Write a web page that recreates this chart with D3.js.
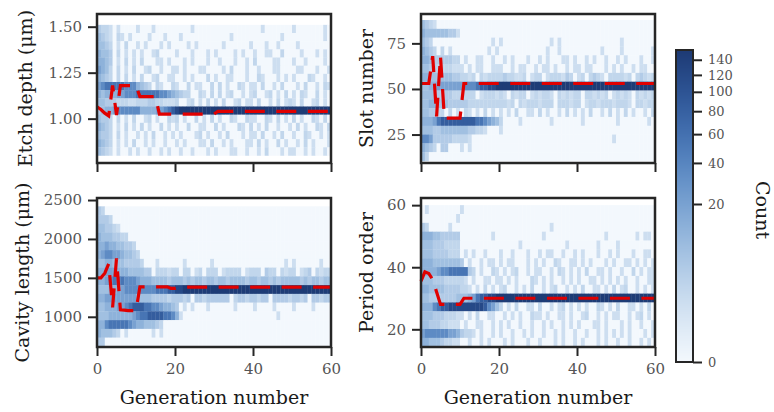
<!DOCTYPE html>
<html>
<head>
<meta charset="utf-8">
<script src="https://cdn.jsdelivr.net/npm/d3@7"></script>
<style>
body { margin: 0; background: #fff; }
text { font-family: "DejaVu Serif", serif; }
</style>
</head>
<body>
<svg id="chart" width="774" height="412"></svg>
<script>
// cell codes -> counts per (generation, bin)
var levelChars = ['.', '1', '2', '3', '4', '5', '6', '7', '8', '9', 'a', 'b'];
var levelCounts = [0, 1, 2, 4, 7, 12, 20, 35, 55, 85, 120, 150];

var genTicks = [0, 20, 40, 60];
var countTicks = [0, 20, 40, 60, 80, 100, 120, 140];
var countMax = 154;

// rows go from the top bin to the bottom bin, one char per generation (0-59)
var etchExtent = [0.80, 1.51];
var etchTicks = [1.00, 1.25, 1.50];
var etchRows = [
    "3221.1.... 1...1..... ....1..... .......... ..1....... 1.......1.",
    "4321.21.1. ...1...1.. .1........ ....1..... .......1.. ........1.",
    "4432.1.2.. 1.1...1.1. ...1.1.... ..1......1 ...1..1... .1........",
    "5443.2.1.1 .1..12.... 1...1...1. 1....1.1.. 1..11..2.. ..1...1.1.",
    "5543.1.2.1 .2...11.1. ..1.1...1. .1...1..1. 2....11... 1..1....1.",
    "6542.2.1.2 ..12..1..1 1.1...11.. ..1.2...1. .1...11... .11...1..1",
    "5432.2.2.1 .2..12..11 ..1.1...2. 1..11...1. .21...1.1. 1...21..1.",
    "6788888777 5432.21..2 1..2.11..2 .2.1..21.1 1.2..1.2.. .1.2..1.21",
    "5455566777 8888887765 4322..21.2 .2.12..1.1 2..12.1.2. 1.21..2.1.",
    "4433322211 2223322111 2..12.1.2. 1.2..12.11 .2..1.2.12 1.2..12.1.",
    "3455677777 7555566789 abbbbbbbbb bbbbbbbbbb bbbbbbbbbb bbbbbbbbbb",
    "4332.2.1.2 ..12.1..21 2.1..2.1.2 .1..21..21 1..21.2.1. 2.1..21.2.",
    "5432.1.2.1 .2.1..2.1. 1..2..11.. 2.1...21.2 .1.2..1..1 .2.1..21.2",
    "4332.2.1.. 1.1.2..1.1 .1...12.1. .1.2...1.1 1.2..1.2.. 1..21..1.1",
    "5432.1.1.2 ..1.1..1.. 1.1...11.2 ..1.1...11 .2.1..2.1. .1.2.1...1",
    "4321.1..1. 1..1..1.1. .1..1...1. 1...11..1. .1.2...1.1 1..1.1..1."
];
var etchBest = [1.065, 1.05, 1.03, 1.015, 1.18, 1.02, 1.18, 1.18, 1.18, 1.18,
    1.18, 1.12, 1.12, 1.12, 1.12, 1.12, 1.025, 1.025, 1.025, 1.025,
    1.025, 1.025, 1.025, 1.025, 1.025, 1.025, 1.025, 1.025, 1.025, 1.025,
    1.025, 1.04, 1.04, 1.04, 1.04, 1.04, 1.04, 1.04, 1.04, 1.04,
    1.04, 1.04, 1.04, 1.04, 1.04, 1.04, 1.04, 1.04, 1.04, 1.04,
    1.04, 1.04, 1.04, 1.04, 1.04, 1.04, 1.04, 1.04, 1.04, 1.04, 1.04];

var slotExtent = [10.5, 87.8];
var slotTicks = [25, 50, 75];
var slotRows = [
    "4321...... .......... .......... .......... .......... ..........",
    "5444444331 .......... .......... .......... .......... ..........",
    "432....... ........1. 1......... ...1.1.... .......... .1........",
    "5432.2.1.. .......1.1 .......... ..1..1.... ......1... .1.......1",
    "5543333322 .1..11..1. .1.1...1.. 1.1...11.1 ..1.1..1.. 1.1...1..1",
    "4433222211 1.1.11..11 1..1.11..1 .11.1..1.1 1.11...1.1 .1..1.11..",
    "5544444433 2212.21222 2322112.12 2.1222132. 12.2321.22 2212.23212",
    "4455666666 6777899aab bbbbbbbbbb bbbbbbbbbb bbbbbbbbbb bbbbbbbbbb",
    "4444333322 2222.12221 21.2122.12 1221.21212 2.221212.1 2121.21212",
    "4455444333 3322222222 2212.21222 1222.22212 2.12212221 2221.22122",
    "443322.2.1 .21.1.2.1. 1.1.2..11. 2.1..1.2.1 .1.2..1.2. 1.2.1..1.2",
    "5556899999 9999887654 2....1.... ...1...... .1........ 1.......1.",
    "4443344444 4433221... 1......... .......... .......... ..........",
    "7763333322 221....... .......... .......... .........1 ..........",
    "5432.33... 1.1....... .......... .......... .......... ..........",
    "42........ .......... .......... .......... .......... .........."
];
var slotBest = [53, 53, 53, 68, 35, 68, 34, 34, 34, 34,
    34, 53, 53, 53, 53, 53, 53, 53, 53, 53,
    53, 53, 53, 53, 53, 53, 53, 53, 53, 53,
    53, 53, 53, 53, 53, 53, 53, 53, 53, 53,
    53, 53, 53, 53, 53, 53, 53, 53, 53, 53,
    53, 53, 53, 53, 53, 53, 53, 53, 53, 53, 53];

var cavityExtent = [620, 2419];
var cavityTicks = [1000, 1500, 2000, 2500];
var cavityRows = [
    "32........ .......... .......... .......... .......... ..........",
    "3332...... .......... .......... .......... .......... ..........",
    "443321.... .......... .......... .......... .......... ..........",
    "54443322.. .......... .......... .......... .......... ..........",
    "5565544332 .......... .......... .......... .......... ..........",
    "5677665443 2......... .......... .......... .......... ..........",
    "4455444333 32...1.... ..1......1 .......... ........1. 1......1..",
    "5566655544 4433.22212 2.22.12.22 2.12222.12 22.322.212 2.123.2122",
    "5567888777 6555444434 4434344344 3443444434 4344343444 4434344344",
    "4445566777 7777788899 aabbbbbbbb bbbbbbbbbb bbbbbbbbbb bbbbbbbbbb",
    "5566666666 5444333323 3323.33233 3333.23323 3233.33332 3323.33233",
    "4455566789 9988776554 3.1.1...1. .....1.... 1....1.... 1....1....",
    "4445555556 7889999887 51........ .......... ......1... ..........",
    "5578888876 5544432... .......... .......... .......... ..........",
    "544432.1.. ....1.1... .......... .......... .......... ..........",
    "33........ .......... .......... .......... .......... .........."
];
var cavityBest = [1500, 1500, 1560, 1680, 1120, 1750, 1090, 1085, 1080, 1080,
    1080, 1385, 1385, 1385, 1385, 1385, 1385, 1385, 1385, 1365,
    1365, 1380, 1380, 1380, 1380, 1380, 1380, 1380, 1380, 1380,
    1380, 1380, 1380, 1380, 1380, 1380, 1380, 1380, 1380, 1380,
    1380, 1380, 1380, 1380, 1380, 1380, 1380, 1380, 1380, 1380,
    1380, 1380, 1380, 1380, 1380, 1380, 1380, 1380, 1380, 1380, 1380];

var periodExtent = [14.4, 60];
var periodTicks = [20, 40, 60];
var periodRows = [
    ".1........ 1......... .......... .......... .......... ..........",
    ".........1 .......... .......... .......... .......... ..........",
    "32.....1.. .......... .......... ...1...... .......... ..........",
    "5554433333 ........1. .......... .1........ .......1.. .....1.11.",
    "4443332222 .......... .....1.... .......1.. .....1.... 1.........",
    "4443333222 .1.1..1... 1..1...1.. 1.11..1..1 .1...1..1. 1...1..11.",
    "5554444444 3.1..1.11. 1.11...1.1 .1..21..11 .1.1...1.1 ..11.1.1.1",
    "5555677888 8832.1..21 .1.12..1.1 1..1.21.1. 1.2..11.1. .1..2.1.11",
    "4443332222 21.1..11.1 1.1.1...21 .1.1..1.1. 1..11.1.1. 1.1..1..11",
    "5544443333 221.1.2.1. 12..1.1.2. .1.12..1.1 .2..11.1.2 .12..1.1.1",
    "4433333334 4456899aab bbbbbbbbbb bbbbbbbbbb bbbbbbbbbb bbbbbbbbbb",
    "5557899aaa aaaaaa9764 2.1.2..11. 2..1.12.1. 1.1..21.1. 2..11.1.2.",
    "4443332221 1.1.2..11. .1.1.1..21 1.1..11.1. .12..1.1.1 1..1.12.1.",
    "4433322111 .1..11..1. 1.1..1..1. .1.1..1.1. 1...11.1.. .1.1..1..1",
    "6777777665 3221.1..1. 1..1..1.1. .1..1.1..1 ..1..1.1.1 .1.1...1.1",
    "5544432211 ..1..1.1.. .1.1...1.. 1...1.1..1 .1...1.1.. 1..1..1.1."
];
var periodBest = [35.5, 38.5, 38, 36, 32, 28, 28, 28, 28, 28,
    28, 30, 30, 30, 30, 30, 30, 30, 30, 30,
    30, 30, 30, 30, 30, 30, 30, 30, 30, 30,
    30, 30, 30, 30, 30, 30, 30, 30, 30, 30,
    30, 30, 30, 30, 30, 30, 30, 30, 30, 30,
    30, 30, 30, 30, 30, 30, 30, 30, 30, 30, 30];

var svg = d3.select('#chart');
var ink = '#262626';

var cScale = d3.scalePow().exponent(1 / 3).domain([0, countMax]).clamp(true);
var cellColor = d3.interpolateRgbBasis(['#f3f8fd', '#d4e3f2', '#a8c5e4', '#7aa3d2', '#4f7fbd', '#30599c', '#1d3a74']);

var panels = [
    {rows: etchRows, best: etchBest, extent: etchExtent, ticks: etchTicks, fmt: '.2f',
        label: 'Etch depth (μm)', left: 97, top: 14, domain: [0.759, 1.569], labelX: 25, bottomRow: false},
    {rows: slotRows, best: slotBest, extent: slotExtent, ticks: slotTicks, fmt: 'd',
        label: 'Slot number', left: 421, top: 14, domain: [9.4, 91.1], labelX: 366, bottomRow: false},
    {rows: cavityRows, best: cavityBest, extent: cavityExtent, ticks: cavityTicks, fmt: 'd',
        label: 'Cavity length (μm)', left: 97, top: 198, domain: [612, 2526], labelX: 22, bottomRow: true},
    {rows: periodRows, best: periodBest, extent: periodExtent, ticks: periodTicks, fmt: 'd',
        label: 'Period order', left: 421, top: 198, domain: [14.3, 62.3], labelX: 366, bottomRow: true}
];
var pw = 234, ph = 149;

panels.forEach(p => {
    var x = d3.scaleLinear().domain([0, 60]).range([p.left, p.left + pw]);
    var y = d3.scaleLinear().domain(p.domain).range([p.top + ph, p.top]);

    var nb = p.rows.length;
    var step = (p.extent[1] - p.extent[0]) / nb;
    var cells = [];
    p.rows.forEach((r, k) => {
        var s = r.replace(/ /g, '');
        for (var g = 0; g < s.length; g++) {
            var c = levelCounts[levelChars.indexOf(s[g])];
            cells.push({g: g, hi: p.extent[1] - k * step, lo: p.extent[1] - (k + 1) * step, count: c});
        }
    });

    var g = svg.append('g');
    g.selectAll('.cell')
        .data(cells)
        .enter().append('rect')
        .attr('class', 'cell')
        .attr('x', d => x(d.g))
        .attr('width', d => x(d.g + 1) - x(d.g) + 0.3)
        .attr('y', d => y(d.hi))
        .attr('height', d => y(d.lo) - y(d.hi) + 0.3)
        .attr('fill', d => cellColor(cScale(d.count)))

    g.append('path')
        .datum(p.best)
        .attr('fill', 'none')
        .attr('stroke', '#e00000')
        .attr('stroke-width', 3.2)
        .attr('stroke-dasharray', '20,11.5')
        .attr('d', d3.line().x((d, i) => x(i)).y(d => y(d)))

    // axes
    var ya = g.append('g')
        .attr('transform', 'translate(' + p.left + ',0)')
        .call(d3.axisLeft(y).tickValues(p.ticks).tickFormat(d3.format(p.fmt)).tickSize(9).tickPadding(6).tickSizeOuter(0));
    var xa = g.append('g')
        .attr('transform', 'translate(0,' + (p.top + ph) + ')')
        .call(d3.axisBottom(x).tickValues(genTicks).tickSize(9).tickPadding(7).tickSizeOuter(0));
    if (!p.bottomRow) xa.selectAll('text').remove();
    [ya, xa].forEach(a => {
        a.select('.domain').remove();
        a.selectAll('line').attr('stroke', ink).attr('stroke-width', 2);
        a.selectAll('text').attr('fill', '#555').style('font-size', '15px');
    });

    g.append('rect')
        .attr('x', p.left)
        .attr('y', p.top)
        .attr('width', pw)
        .attr('height', ph)
        .attr('fill', 'none')
        .attr('stroke', ink)
        .attr('stroke-width', 2.5)

    g.append('text')
        .attr('transform', 'translate(' + p.labelX + ',' + (p.top + ph / 2) + ') rotate(-90)')
        .attr('text-anchor', 'middle')
        .attr('dominant-baseline', 'central')
        .attr('fill', '#1a1a1a')
        .style('font-size', '19px')
        .text(p.label)

    if (p.bottomRow) {
        g.append('text')
            .attr('x', p.left + pw / 2)
            .attr('y', 404)
            .attr('text-anchor', 'middle')
            .attr('fill', '#1a1a1a')
            .style('font-size', '19px')
            .text('Generation number')
    }
});

// colorbar
var cbX = 676, cbW = 17, cbTop = 50, cbBot = 362;
var cbY = d3.scalePow().exponent(1 / 3).domain([0, countMax]).range([cbBot, cbTop]);
var cb = svg.append('g');
cb.selectAll('.cb')
    .data(d3.range(cbTop, cbBot))
    .enter().append('rect')
    .attr('x', cbX)
    .attr('width', cbW)
    .attr('y', d => d)
    .attr('height', 1.2)
    .attr('fill', d => cellColor((cbBot - d - 0.5) / (cbBot - cbTop)))
cb.append('rect')
    .attr('x', cbX)
    .attr('y', cbTop)
    .attr('width', cbW)
    .attr('height', cbBot - cbTop)
    .attr('fill', 'none')
    .attr('stroke', ink)
    .attr('stroke-width', 2)
var ca = cb.append('g')
    .attr('transform', 'translate(' + (cbX + cbW) + ',0)')
    .call(d3.axisRight(cbY).tickValues(countTicks).tickSize(9).tickPadding(6).tickSizeOuter(0));
ca.select('.domain').remove();
ca.selectAll('line').attr('stroke', ink).attr('stroke-width', 2);
ca.selectAll('text').attr('fill', '#555').style('font-size', '13px');
cb.append('text')
    .attr('transform', 'translate(763,210) rotate(90)')
    .attr('text-anchor', 'middle')
    .attr('dominant-baseline', 'central')
    .attr('fill', '#1a1a1a')
    .style('font-size', '19px')
    .text('Count')
</script>
</body>
</html>
